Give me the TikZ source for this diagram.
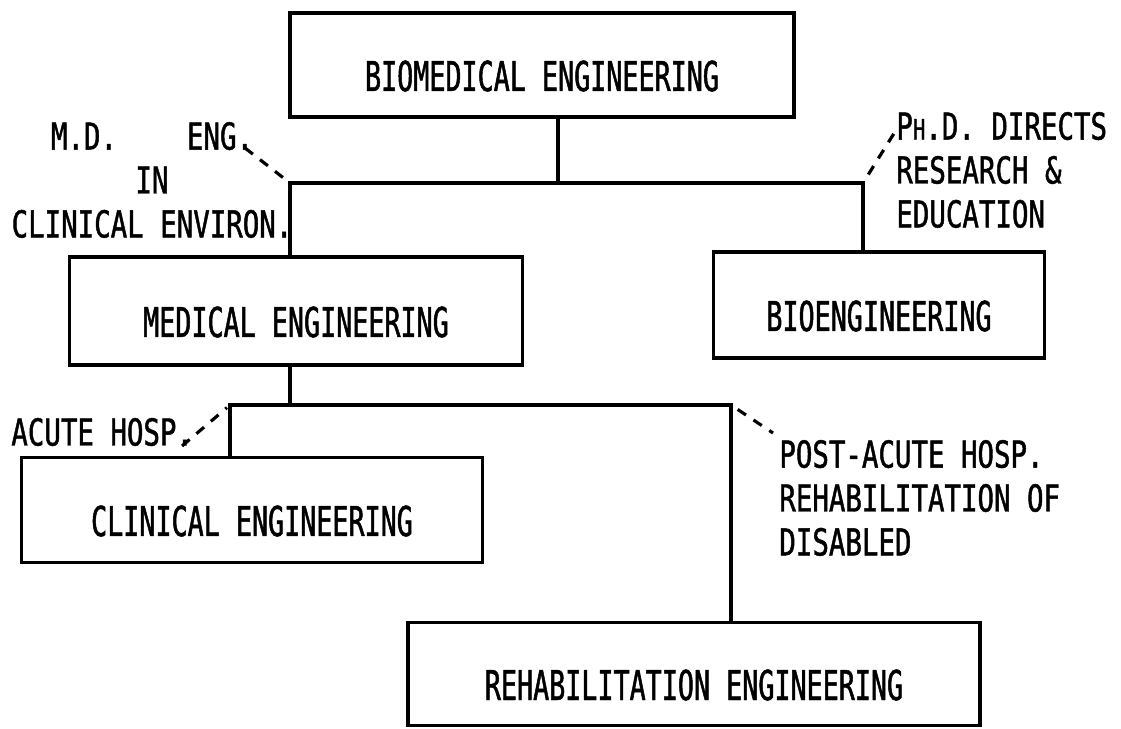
\documentclass[tikz,border=0pt]{standalone}
\usepackage{fontspec}
\setmainfont{DejaVu Sans Mono}[FakeStretch=0.65, FakeBold=1.2]
\newfontfamily\notefont{DejaVu Sans Mono}[FakeStretch=0.74, FakeBold=1.2]

\begin{document}
\begin{tikzpicture}[
  x=0.02cm, y=-0.02cm,
  font=\fontsize{23.4}{27}\selectfont,
  unit/.style={draw, line width=1.8pt, inner sep=0pt,
               text height=1.04cm, text depth=0pt},
  note/.style={inner sep=0pt, font=\notefont\fontsize{21.1}{25}\selectfont},
  link/.style={line width=1.8pt},
  hint/.style={line width=1.8pt, dash pattern=on 0.2cm off 0.18cm},
]
  \useasboundingbox (0,0) rectangle (1121,729);
  % ── Boxes ──
  \node[unit, minimum width=10.08cm, minimum height=2.08cm] (bme)   at (542,65)  {BIOMEDICAL ENGINEERING};
  \node[unit, minimum width=9.06cm,  minimum height=2.16cm] (med)   at (296,311) {MEDICAL ENGINEERING};
  \node[unit, minimum width=6.62cm,  minimum height=2.12cm] (bio)   at (879,305) {BIOENGINEERING};
  \node[unit, minimum width=9.22cm,  minimum height=2.10cm] (clin)  at (252,510) {CLINICAL ENGINEERING};
  \node[unit, minimum width=11.44cm, minimum height=2.06cm] (rehab) at (694,674) {REHABILITATION ENGINEERING};
  % ── Junctions ──
  \coordinate (jT) at (558,183);
  \coordinate (jL) at (290,183);
  \coordinate (jR) at (863,183);
  \coordinate (kL) at (230,405);
  \coordinate (kM) at (290,405);
  \coordinate (kR) at (731,405);
  % ── Tree lines ──
  \draw[link] (jT |- bme.south) -- (jT);
  \draw[link] (jL |- med.north) -- (jL) -- (jR) -- (jR |- bio.north);
  \draw[link] (kM |- med.south) -- (kM);
  \draw[link] (kL |- clin.north) -- (kL) -- (kR) -- (kR |- rehab.north);
  % ── Side notes ──
  \node[note, align=center] (mdnote) at (152,180)
    {M.D.\hspace{1.4cm}ENG.\\IN\\CLINICAL ENVIRON.};
  \node[note, align=left, anchor=west] (phdnote) at (896,170)
    {P{\fontsize{16}{16}\selectfont H}.D. DIRECTS\\RESEARCH \&\\EDUCATION};
  \node[note, anchor=west] (acutenote) at (11,432) {ACUTE HOSP.};
  \node[note, align=left, anchor=west] (postnote) at (779,498)
    {POST-ACUTE HOSP.\\REHABILITATION OF\\DISABLED};
  % ── Dashed pointers ──
  \coordinate (dMD)    at (245,148);
  \coordinate (dPhD)   at (898,127);
  \coordinate (dAcute) at (182,446);
  \coordinate (dPost)  at (773,433);
  \draw[hint] (dMD) -- (jL);
  \draw[hint, shorten <=0.2cm] (jR) -- (dPhD);
  \draw[hint, shorten >=0.08cm] (dAcute) -- (kL);
  \draw[hint, shorten <=0.16cm] (kR) -- (dPost);
\end{tikzpicture}
\end{document}
